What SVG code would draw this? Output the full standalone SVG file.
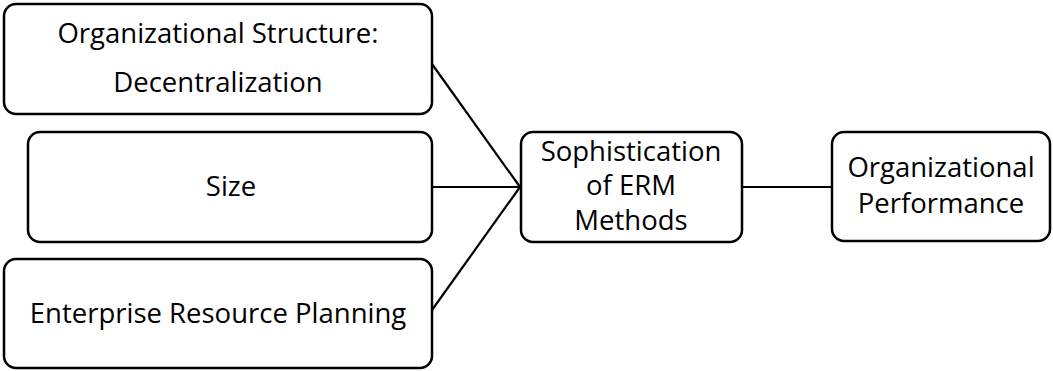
<svg xmlns="http://www.w3.org/2000/svg" width="1053" height="371" viewBox="0 0 1053 371">
<style>
.box{fill:#fff;stroke:#000;stroke-width:2.5}
.t{font-family:"Open Sans","Liberation Sans",sans-serif;font-size:27.5px;fill:#000;text-anchor:middle}
.c{stroke:#000;stroke-width:2.2;fill:none}
</style>
<rect width="1053" height="371" fill="#fff"/>
<g id="connectors">
<line class="c" x1="432" y1="64" x2="520" y2="187"/>
<line class="c" x1="432" y1="187" x2="520" y2="187"/>
<line class="c" x1="432" y1="310" x2="520" y2="187"/>
<line class="c" x1="742" y1="187" x2="832" y2="187"/>
</g>
<g id="n1">
<rect class="box" x="4" y="4" width="428" height="110" rx="12"/>
<text class="t" x="218" y="43">Organizational Structure:</text>
<text class="t" x="218" y="92">Decentralization</text>
</g>
<g id="n2">
<rect class="box" x="28" y="132" width="404" height="110" rx="12"/>
<text class="t" x="231" y="196">Size</text>
</g>
<g id="n3">
<rect class="box" x="4" y="259" width="428" height="109" rx="12"/>
<text class="t" x="218" y="323">Enterprise Resource Planning</text>
</g>
<g id="n4">
<rect class="box" x="521" y="132" width="221" height="110" rx="12"/>
<text class="t" x="631" y="161">Sophistication</text>
<text class="t" x="631" y="195">of ERM</text>
<text class="t" x="631" y="230">Methods</text>
</g>
<g id="n5">
<rect class="box" x="832" y="132" width="218" height="109" rx="12"/>
<text class="t" x="941" y="177">Organizational</text>
<text class="t" x="941" y="213">Performance</text>
</g>
</svg>
